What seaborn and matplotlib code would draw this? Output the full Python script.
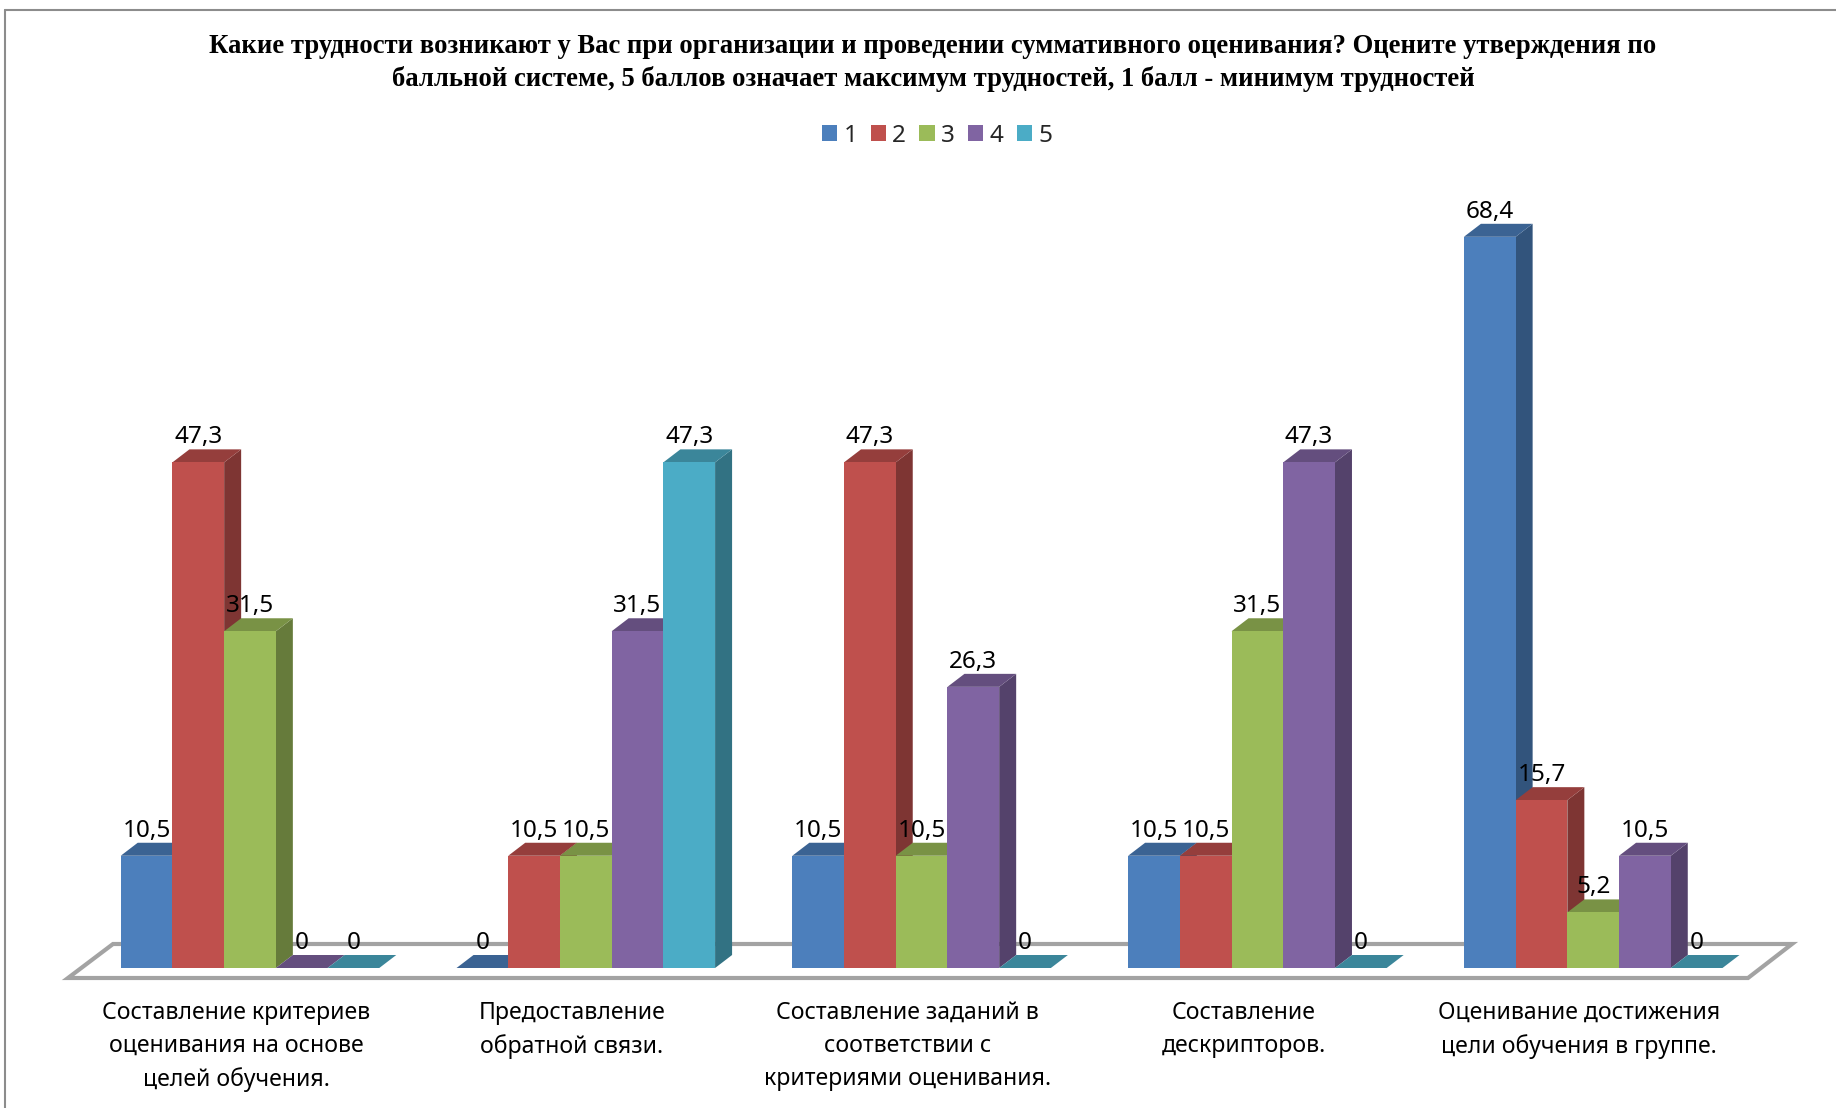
import matplotlib

matplotlib.use("Agg")

# Third Party Library
import matplotlib.pyplot as plt
import pandas as pd
import seaborn as sns

from matplotlib.colors import to_rgb
from matplotlib.lines import Line2D
from matplotlib.patches import Polygon

sns.set_theme(style="white")

# Data
title = (
    "Какие трудности возникают у Вас при организации и проведении суммативного "
    "оценивания? Оцените утверждения по\n"
    "балльной системе, 5 баллов означает максимум трудностей, 1 балл - минимум трудностей"
)
categories = [
    "Составление критериев\nоценивания на основе\nцелей обучения.",
    "Предоставление\nобратной связи.",
    "Составление заданий в\nсоответствии с\nкритериями оценивания.",
    "Составление\nдескрипторов.",
    "Оценивание достижения\nцели обучения в группе.",
]
scores = ["1", "2", "3", "4", "5"]
score_1 = [10.5, 0, 10.5, 10.5, 68.4]
score_2 = [47.3, 10.5, 47.3, 10.5, 15.7]
score_3 = [31.5, 10.5, 10.5, 31.5, 5.2]
score_4 = [0, 31.5, 26.3, 47.3, 10.5]
score_5 = [0, 47.3, 0, 0, 0]
colors = ["#4C7FBC", "#BF504D", "#9BBB59", "#8064A2", "#4BACC6"]

df = pd.DataFrame(
    {
        "category": categories * 5,
        "score": [s for s in scores for _ in categories],
        "value": score_1 + score_2 + score_3 + score_4 + score_5,
    }
)

# Pixel calibration of the picture
W, H = 1836, 1108
base_px = 968  # y of the zero line
first_px = 250  # x of the first group's centre
group_px = 335.8  # distance between groups
unit_px = 10.69  # pixels per value unit
depth_x, depth_y = 17 / group_px, 13 / unit_px
label_shift = -14 / group_px  # category labels sit left of their bars


def px_x(px):
    return (px - first_px) / group_px


def px_y(px):
    return (base_px - px) / unit_px


fig = plt.figure(figsize=(W / 100, H / 100), dpi=100)
ax = fig.add_axes([0, (H - base_px) / H, 1, base_px / H])
ax.set_facecolor("none")

sns.barplot(
    df,
    x="category",
    y="value",
    hue="score",
    hue_order=scores,
    order=categories,
    palette=colors,
    width=0.77,
    gap=0,
    saturation=1,
    errorbar=None,
    linewidth=0,
    ax=ax,
)

ax.set_xlim(px_x(0), px_x(W))
ax.set_ylim(0, px_y(0))
ax.set_xlabel("")
ax.set_ylabel("")
ax.set_yticks([])
ax.tick_params(axis="x", length=0, pad=23.7)
ax.set_xticks([i + label_shift for i in range(len(categories))])
ax.set_xticklabels(categories, fontsize=16.6, color="black", family="Noto Sans", linespacing=1.5)
sns.despine(ax=ax, left=True, bottom=True)

# Floor of the 3D box, behind everything
floor = Polygon(
    [
        (px_x(68), px_y(978)),
        (px_x(1748), px_y(978)),
        (px_x(1792), px_y(944)),
        (px_x(113), px_y(944)),
    ],
    closed=True,
    facecolor="white",
    edgecolor="#A3A3A3",
    linewidth=3,
    zorder=0,
    clip_on=False,
    joinstyle="miter",
)
ax.add_patch(floor)


def shade(color, k):
    return tuple(c * k for c in to_rgb(color))


# Side and top faces for each bar, stacked left to right so neighbours overlap
for container, color in zip(ax.containers, colors):
    for bar in container:
        x, w, h = bar.get_x(), bar.get_width(), bar.get_height()
        z = 2 + x
        bar.set_zorder(z + 0.02)
        side = Polygon(
            [
                (x + w, 0),
                (x + w + depth_x, depth_y),
                (x + w + depth_x, h + depth_y),
                (x + w, h),
            ],
            facecolor=shade(color, 0.66),
            edgecolor="none",
            zorder=z,
        )
        top = Polygon(
            [
                (x, h),
                (x + w, h),
                (x + w + depth_x, h + depth_y),
                (x + depth_x, h + depth_y),
            ],
            facecolor=shade(color, 0.78),
            edgecolor="none",
            zorder=z + 0.01,
        )
        ax.add_patch(side)
        ax.add_patch(top)
    labels = [f"{v:g}".replace(".", ",") for v in container.datavalues]
    for text in ax.bar_label(container, labels=labels, padding=9.4, fontsize=17.5, family="Noto Sans", color="black"):
        text.set_zorder(20)

# Legend
handles, _ = ax.get_legend_handles_labels()
ax.legend(
    handles,
    scores,
    ncol=5,
    loc="center",
    bbox_to_anchor=(937 / W, 1 - 136 / base_px),
    frameon=False,
    handlelength=0.63,
    handleheight=0.63,
    handletextpad=0.25,
    columnspacing=0.55,
    prop={"family": "Noto Sans", "size": 17.5},
)

fig.text(
    933 / W,
    1 - 63 / H,
    title,
    ha="center",
    va="center",
    family="Liberation Serif",
    weight="bold",
    fontsize=19.2,
    color="black",
    linespacing=1.35,
)

# Chart frame: only left and top edges fall inside the picture
fig.add_artist(Line2D([5 / W, 5 / W], [0, 1 - 10 / H], color="#8C8C8C", lw=1.5))
fig.add_artist(Line2D([5 / W, 1], [1 - 10 / H, 1 - 10 / H], color="#8C8C8C", lw=1.5))

fig.savefig("out.png", dpi=100)
